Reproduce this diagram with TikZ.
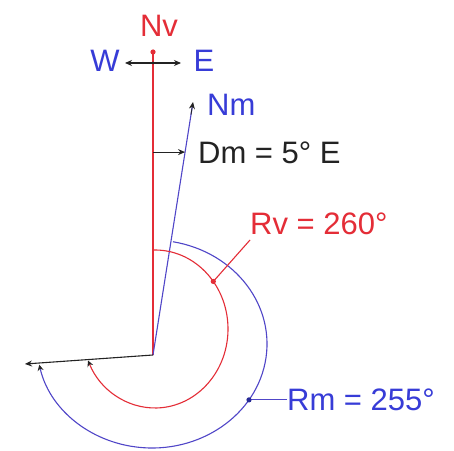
\documentclass[tikz,border=0pt]{standalone}
\usepackage{fontspec}
\setmainfont{Liberation Sans}
\usetikzlibrary{arrows.meta,calc}
\definecolor{myred}{RGB}{228,45,55}
\definecolor{myblue}{RGB}{55,60,215}
\definecolor{bluel}{RGB}{80,70,200}
\definecolor{myblack}{RGB}{35,35,35}
\tikzset{
  lbl/.style={font=\fontsize{31}{31}\selectfont, inner sep=0pt},
  ln/.style={line width=1.1pt},
  tip/.style={-{Stealth[length=7pt,width=6pt]}},
  dtip/.style={-{Stealth[length=6pt,width=6pt,color=myblack]}},
}
\begin{document}
\begin{tikzpicture}[x=1pt,y=1pt]
\useasboundingbox (0,0) rectangle (454,450);
\fill[white] (0,0) rectangle (454,450);
% key points
\coordinate (O) at (153,95);
\coordinate (Nvtop) at (153,398);
\coordinate (Nmtip) at (193,348);
\coordinate (Wend) at (25,86);
\coordinate (Wa) at (125,387);
\coordinate (Ea) at (181,387);
\coordinate (WEc) at (153,387);
% ellipse centres
\coordinate (Cr) at (155,121);
\coordinate (Cb) at (152,106);
% red north line
\draw[ln, myred] (O) -- (Nvtop);
\fill[myred] (Nvtop) circle (2.6pt);
% W-E arrow
\draw[ln, myblack, {Stealth[length=7pt,width=6pt]}-{Stealth[length=7pt,width=6pt]}] (Wa) -- (Ea);
\fill[myblack] (WEc) circle (1.5pt);
% labels on top
\node[lbl, myred] (Nv) at (159,424) {Nv};
\node[lbl, myblue] (W) at (105,389) {W};
\node[lbl, myblue] (E) at (204,389) {E};
% magnetic north line
\draw[ln, bluel, shorten >=3pt] (O) -- (Nmtip);
\draw[myblack, tip, line width=0.8pt] ($(O)!0.95!(Nmtip)$) -- (Nmtip);
\node[lbl, myblue, anchor=west] (Nm) at (207,345) {Nm};
% Dm arrow
\coordinate (Dmb) at ($(O)!0.802!(Nmtip)$);
\draw[ln, myblack, tip] (O |- Dmb) -- (Dmb);
\node[lbl, myblack, anchor=west] (Dm) at (198,297) {Dm = 5° E};
% bearing line
\draw[ln, myblack, tip] (O) -- (Wend);
% red arc (Rv)
\draw[ln, myred, dtip] ($(Cr)+(91.6:73 and 79)$) arc[start angle=91.6, end angle=-156.5, x radius=73, y radius=79];
% blue arc (Rm)
\draw[ln, bluel, dtip] ($(Cb)+(79.5:115 and 104)$) arc[start angle=79.5, end angle=-168.5, x radius=115, y radius=104];
% Rv label and leader
\coordinate (Rvp) at ($(Cr)+(37:73 and 79)$);
\node[lbl, myred, anchor=west] (Rv) at (250,226) {Rv = 260°};
\coordinate (Rvl) at (250,210);
\draw[ln, myred] (Rvl) -- (Rvp);
\fill[myred] (Rvp) circle (2.6pt);
% Rm label and leader
\coordinate (Rmp) at ($(Cb)+(-32.5:115 and 104)$);
\node[lbl, myblue, anchor=west] (Rm) at (287,50) {Rm = 255°};
\draw[ln, bluel] (Rm.west |- Rmp) -- (Rmp);
\fill[myblue!70!black] (Rmp) circle (2.6pt);
\end{tikzpicture}
\end{document}
